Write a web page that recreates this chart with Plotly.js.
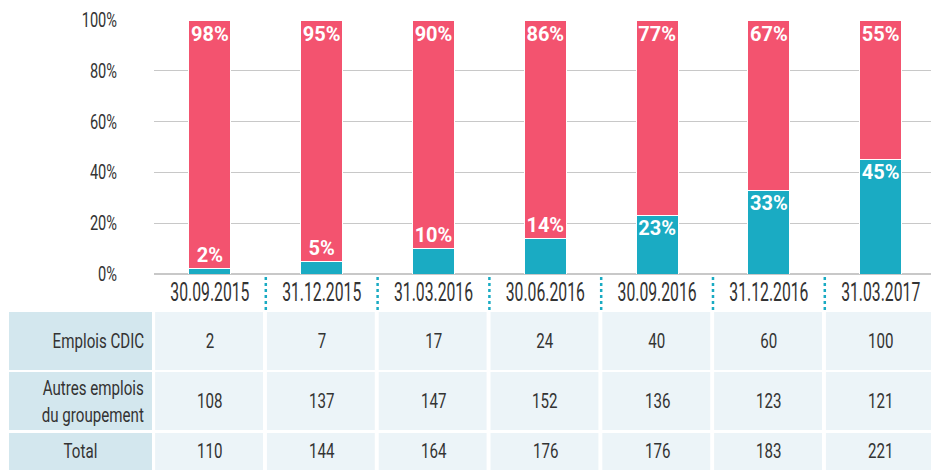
<!DOCTYPE html>
<html>
<head>
<meta charset="utf-8">
<script src="https://cdn.plot.ly/plotly-3.0.1.min.js"></script>
<style>
html,body{margin:0;padding:0;background:#fff;}
#chart{width:931px;height:470px;}
</style>
</head>
<body>
<div id="chart"></div>
<script>
// ---- data ----
var dates = ['30.09.2015', '31.12.2015', '31.03.2016', '30.06.2016', '30.09.2016', '31.12.2016', '31.03.2017'];
var pctCdic = [2, 5, 10, 14, 23, 33, 45];
var pctAutres = [98, 95, 90, 86, 77, 67, 55];
var emploisCdic = [2, 7, 17, 24, 40, 60, 100];
var autresEmplois = [108, 137, 147, 152, 136, 123, 121];
var totalEmplois = [110, 144, 164, 176, 176, 183, 221];
var rowLabels = ['Emplois CDIC', 'Autres emplois<br>du groupement', 'Total'];
var yTicks = [0, 20, 40, 60, 80, 100];

// ---- styles ----
var TEAL = '#1aabc3', PINK = '#f3536f';
var COND = 'Roboto, "Noto Sans", sans-serif';
var BOLD = 'Roboto, "Noto Sans", sans-serif';
var TXT = '#333333';

var traces = [
  {type: 'bar', x: dates, y: pctCdic, width: 0.375, marker: {color: TEAL, line: {color: '#fff', width: 1}}, hoverinfo: 'skip'},
  {type: 'bar', x: dates, y: pctAutres, width: 0.375, marker: {color: PINK, line: {color: '#fff', width: 1}}, hoverinfo: 'skip'},
  {type: 'scatter', mode: 'markers+text', x: dates, y: pctAutres.map(function(v, i){ return v + pctCdic[i]; }),
   text: pctAutres.map(function(v){ return v + '%'; }), textposition: 'bottom center',
   marker: {size: 8, opacity: 0},
   textfont: {family: BOLD, size: 20, color: '#fff', weight: 'bold'}, cliponaxis: false, hoverinfo: 'skip'},
  {type: 'scatter', mode: 'markers+text', x: dates, y: pctCdic,
   text: pctCdic.map(function(v){ return v + '%'; }),
   textposition: pctCdic.map(function(v){ return v < 20 ? 'top center' : 'bottom center'; }),
   marker: {size: pctCdic.map(function(v){ return v < 20 ? 1 : 6; }), opacity: 0},
   textfont: {family: BOLD, size: 20, color: '#fff', weight: 'bold'}, cliponaxis: false, hoverinfo: 'skip'}
];

// table geometry (pixel -> paper conversions)
var T = 20, B = 274, H = B - T, L = 154, W = 931 - L;
function py(p){ return (B - p) / H; }
function px(p){ return (p - L) / W; }
var rows = [[312, 370, 341], [372, 430, 401], [433, 480, 451]];
var rowAlign = ['right', 'right', 'center'];
var rowVals = [emploisCdic, autresEmplois, totalEmplois];

var shapes = [], annotations = [];
rows.forEach(function(r, ri){
  shapes.push({type: 'rect', xref: 'paper', yref: 'paper', x0: px(9), x1: px(152), y0: py(r[1]), y1: py(r[0]),
    fillcolor: '#d3e7ee', line: {width: 0}, layer: 'below'});
  var centered = rowAlign[ri] === 'center';
  annotations.push({xref: 'paper', yref: 'paper', x: centered ? px(80) : px(146), y: py(r[2]),
    xanchor: rowAlign[ri], yanchor: 'middle',
    align: rowAlign[ri], showarrow: false, text: rowLabels[ri], font: {family: COND, size: 21, color: TXT}});
  dates.forEach(function(d, ci){
    shapes.push({type: 'rect', xref: 'x', yref: 'paper', x0: ci - 0.49, x1: ci + 0.475, y0: py(r[1]), y1: py(r[0]),
      fillcolor: '#ecf4f8', line: {width: 0}, layer: 'below'});
    annotations.push({xref: 'x', yref: 'paper', x: ci, y: py(r[2]), xanchor: 'center', yanchor: 'middle',
      showarrow: false, text: String(rowVals[ri][ci]), font: {family: COND, size: 21, color: TXT}});
  });
});
dates.forEach(function(d, ci){
  if (ci < dates.length - 1) {
    shapes.push({type: 'line', xref: 'x', yref: 'paper', x0: ci + 0.5, x1: ci + 0.5, y0: py(277), y1: py(311),
      line: {color: TEAL, width: 2.5, dash: 'dot'}});
  }
});

var layout = {
  width: 931, height: 470,
  margin: {l: L, r: 0, t: T, b: 470 - B, pad: 0},
  paper_bgcolor: '#fff', plot_bgcolor: '#fff',
  showlegend: false, barmode: 'stack',
  xaxis: {type: 'category', range: [-0.5, 6.45], showgrid: false, zeroline: false, showline: false, ticks: '',
    tickangle: 0, tickfont: {family: COND, size: 25, color: TXT}, ticklabelstandoff: 1, fixedrange: true},
  yaxis: {range: [0, 100], tickvals: yTicks, ticktext: yTicks.map(function(v){ return v + '%'; }),
    showgrid: true, gridcolor: '#c8c8c8', gridwidth: 1.3, zeroline: true, zerolinecolor: '#c8c8c8', zerolinewidth: 1.3,
    showline: false, ticks: '', ticklabelstandoff: 36, tickfont: {family: COND, size: 20, color: TXT}, fixedrange: true},
  shapes: shapes, annotations: annotations
};

// narrow the regular text horizontally to imitate the condensed face of the original
function condense(selector, ratio) {
  document.querySelectorAll(selector).forEach(function(t){
    var lines = t.querySelectorAll('tspan.line');
    var targets = lines.length ? Array.prototype.slice.call(lines) : [t];
    targets.forEach(function(el){
      var w = el.getComputedTextLength();
      if (w > 0) {
        el.setAttribute('textLength', (w * ratio).toFixed(2));
        el.setAttribute('lengthAdjust', 'spacingAndGlyphs');
      }
    });
  });
}

Plotly.newPlot('chart', traces, layout, {displayModeBar: false, staticPlot: true}).then(function(){
  condense('#chart .xtick text', 0.63);
  condense('#chart .ytick text', 0.73);
  condense('#chart .annotation-text', 0.72);
});
</script>
</body>
</html>
